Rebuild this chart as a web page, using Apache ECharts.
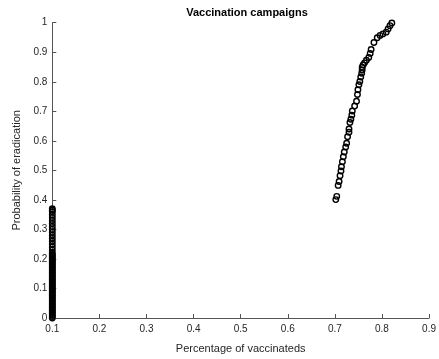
<!DOCTYPE html>
<html>
<head>
<meta charset="utf-8">
<script src="https://cdn.jsdelivr.net/npm/echarts@6/dist/echarts.min.js"></script>
<style>html,body{margin:0;padding:0;background:#fff}#c{width:439px;height:359px}</style>
</head>
<body>
<div id="c"></div>
<script>
const titleText = "Vaccination campaigns";
const xAxisName = "Percentage of vaccinateds";
const yAxisName = "Probability of eradication";

// Left cluster: x = 0.1
const lowX = 0.1;
const lowY = [0, 0.005, 0.01, 0.015, 0.02, 0.025, 0.03, 0.035, 0.04, 0.045, 0.05, 0.055, 0.06, 0.065, 0.07, 0.075,
  0.08, 0.085, 0.09, 0.095, 0.1, 0.105, 0.11, 0.115, 0.12, 0.125, 0.13, 0.135, 0.14, 0.145, 0.15, 0.155,
  0.16, 0.165, 0.17, 0.175, 0.18, 0.185, 0.19, 0.195, 0.2, 0.205, 0.21, 0.215, 0.22, 0.23, 0.24, 0.25,
  0.26, 0.27, 0.28, 0.29, 0.3, 0.31, 0.32, 0.33, 0.34, 0.35, 0.36, 0.365, 0.37];

// Right cluster
const highX = [0.702, 0.704, 0.707, 0.709, 0.711, 0.713, 0.714, 0.716, 0.718, 0.720, 0.723, 0.725, 0.727, 0.730,
  0.730, 0.732, 0.734, 0.736, 0.737, 0.742, 0.746, 0.748, 0.749, 0.751, 0.753, 0.755, 0.757, 0.758, 0.758,
  0.760, 0.763, 0.767, 0.772, 0.775, 0.777, 0.783, 0.790, 0.796, 0.802, 0.809, 0.813, 0.817, 0.821];
const highY = [0.401, 0.412, 0.449, 0.462, 0.482, 0.498, 0.512, 0.529, 0.546, 0.562, 0.579, 0.592, 0.614, 0.629,
  0.640, 0.662, 0.673, 0.687, 0.701, 0.718, 0.734, 0.757, 0.773, 0.790, 0.801, 0.816, 0.829, 0.840, 0.849,
  0.857, 0.864, 0.873, 0.882, 0.896, 0.909, 0.933, 0.949, 0.957, 0.962, 0.968, 0.979, 0.990, 0.999];

const data = lowY.map(y => [lowX, y]).concat(highX.map((x, i) => [x, highY[i]]));

const axisColor = '#555555';
const chart = echarts.init(document.getElementById('c'), null, {renderer: 'canvas'});
chart.setOption({
  animation: false,
  backgroundColor: '#fff',
  title: {
    text: titleText, left: 242, top: 2, textAlign: 'center',
    textStyle: {fontFamily: 'Liberation Sans', fontSize: 11, fontWeight: 'bold', color: '#000'}
  },
  grid: {left: 52.3, right: 6.7, top: 22.7, bottom: 36.3, containLabel: false},
  xAxis: {
    type: 'value', min: 0.1, max: 0.9, interval: 0.1,
    name: xAxisName, nameLocation: 'middle', nameGap: 25,
    nameTextStyle: {fontFamily: 'Liberation Sans', fontSize: 11, color: '#262626'},
    axisLine: {lineStyle: {color: axisColor, width: 1}},
    axisTick: {inside: true, length: 4, lineStyle: {color: axisColor}},
    axisLabel: {fontFamily: 'Liberation Sans', fontSize: 10, color: '#262626', margin: 6,
      formatter: v => String(+v.toFixed(1))},
    splitLine: {show: false}
  },
  yAxis: {
    type: 'value', min: 0, max: 1, interval: 0.1,
    name: yAxisName, nameLocation: 'middle', nameGap: 26, nameRotate: 90,
    nameTextStyle: {fontFamily: 'Liberation Sans', fontSize: 11, color: '#262626'},
    axisLine: {show: true, lineStyle: {color: axisColor, width: 1}},
    axisTick: {show: true, inside: true, length: 4, lineStyle: {color: axisColor}},
    axisLabel: {fontFamily: 'Liberation Sans', fontSize: 10, color: '#262626', margin: 5,
      formatter: v => String(+v.toFixed(1))},
    splitLine: {show: false}
  },
  series: [{
    type: 'scatter', data: data, symbol: 'circle', symbolSize: 5.5,
    itemStyle: {color: 'rgba(0,0,0,0)', borderColor: '#000', borderWidth: 1.4, opacity: 1}
  }]
});
</script>
</body>
</html>
